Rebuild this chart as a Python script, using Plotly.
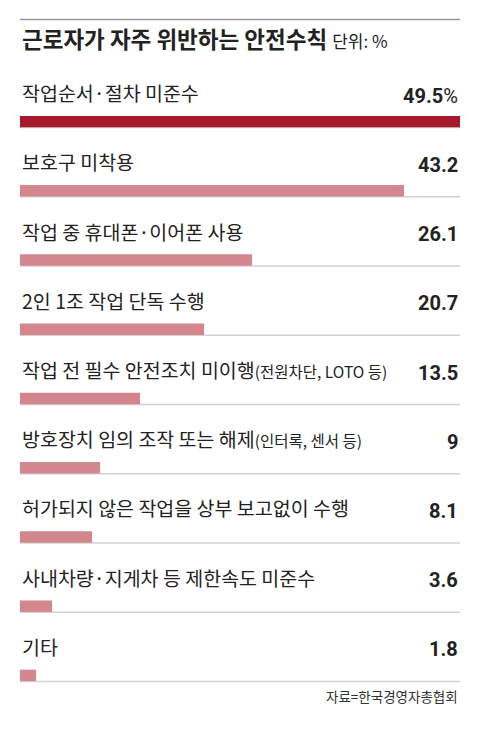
import plotly.graph_objects as go

categories = [
    "작업순서·절차 미준수",
    "보호구 미착용",
    "작업 중 휴대폰·이어폰 사용",
    "2인 1조 작업 단독 수행",
    "작업 전 필수 안전조치 미이행",
    "방호장치 임의 조작 또는 해제",
    "허가되지 않은 작업을 상부 보고없이 수행",
    "사내차량·지게차 등 제한속도 미준수",
    "기타",
]
notes = ["", "", "", "", "(전원차단, LOTO 등)", "(인터록, 센서 등)", "", "", ""]
values = [49.5, 43.2, 26.1, 20.7, 13.5, 9, 8.1, 3.6, 1.8]
value_labels = ["49.5", "43.2", "26.1", "20.7", "13.5", "9", "8.1", "3.6", "1.8"]

title = "근로자가 자주 위반하는 안전수칙"
unit = "단위: %"
source = "자료=한국경영자총협회"

RED = "#a5192a"
PINK = "#d4868e"
GRID = "#d2d2d2"
TXT = "#222222"
LABEL_FONT = "Noto Sans CJK KR"
NUM_FONT = "Liberation Sans Narrow, Roboto, sans-serif"

n = len(values)
idx = list(range(n))
bw = 0.165
colors = [RED] + [PINK] * (n - 1)

fig = go.Figure(go.Bar(
    x=values, y=idx, orientation="h", width=bw,
    marker=dict(color=colors, line=dict(width=0)),
    hoverinfo="skip",
))

annotations = []
shapes = []
for i in idx:
    lab = categories[i]
    if notes[i]:
        lab += '<span style="font-size:15.5px">' + notes[i] + '</span>'
    annotations.append(dict(
        x=0, xref="paper", y=i, yref="y", yshift=29,
        xanchor="left", yanchor="middle", text=lab, showarrow=False,
        font=dict(family=LABEL_FONT, size=19.5, color=TXT),
    ))
    vt = "<b>" + value_labels[i] + "</b>" + ("%" if i == 0 else "")
    annotations.append(dict(
        x=1, xref="paper", y=i, yref="y", yshift=26,
        xanchor="right", yanchor="middle", text=vt, showarrow=False,
        font=dict(family=NUM_FONT, size=20, color=TXT),
    ))
    shapes.append(dict(
        type="line", xref="paper", x0=0, x1=1, yref="y",
        y0=i + bw / 2 + 0.004, y1=i + bw / 2 + 0.004,
        line=dict(color=GRID, width=1.5), layer="below",
    ))

annotations.append(dict(
    x=0, xref="paper", y=1, yref="paper", yshift=49,
    xanchor="left", yanchor="middle", showarrow=False,
    text="<b>" + title + "</b> <span style=\"font-size:17px\">" + unit + "</span>",
    font=dict(family=LABEL_FONT, size=22.5, color=TXT),
))
annotations.append(dict(
    x=1, xref="paper", y=0, yref="paper", yshift=14,
    xanchor="right", yanchor="middle", showarrow=False, text=source,
    font=dict(family=LABEL_FONT, size=13.5, color="#333333"),
))
shapes.append(dict(
    type="line", xref="paper", x0=0, x1=1, yref="paper", ysizemode="pixel",
    yanchor=1, y0=67.5, y1=67.5, line=dict(color="#9a9a9a", width=1.5),
))

# page body has an 8px margin, so the figure is offset by 8px
fig.update_layout(
    width=472, height=722,
    margin=dict(l=12, r=20, t=79, b=19.5),
    paper_bgcolor="white", plot_bgcolor="white",
    xaxis=dict(range=[0, 49.5], visible=False, fixedrange=True),
    yaxis=dict(range=[n - 0.5, -0.5], visible=False, fixedrange=True),
    showlegend=False,
    annotations=annotations, shapes=shapes,
)

fig.write_html("out.html")
